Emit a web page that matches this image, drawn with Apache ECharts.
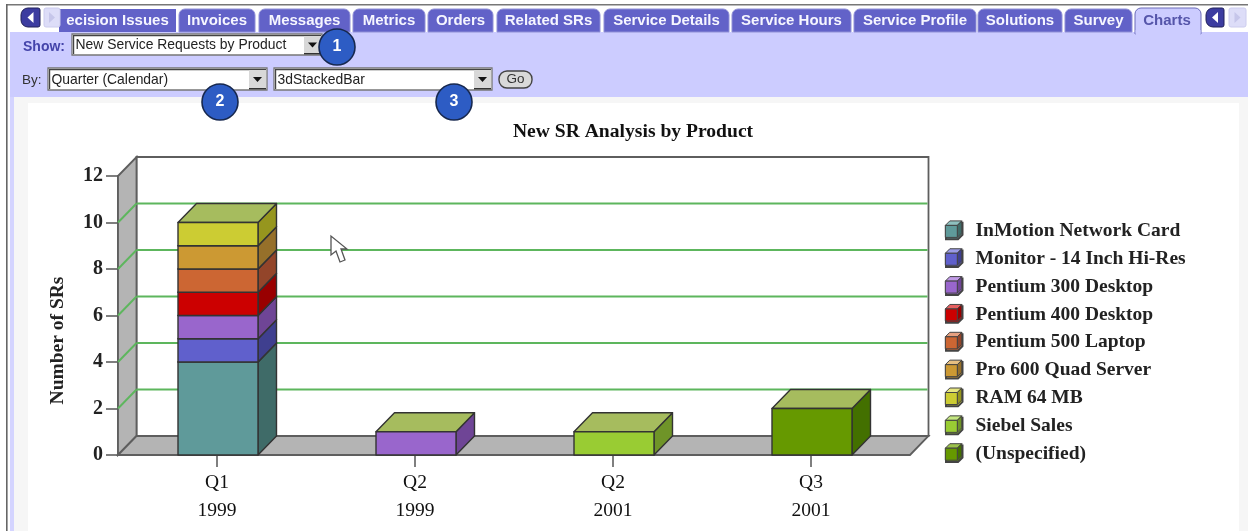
<!DOCTYPE html>
<html><head><meta charset="utf-8">
<style>html,body{margin:0;padding:0;background:#fff}#c{width:1248px;height:531px;filter:blur(0.45px)}</style>
<script src="https://cdn.jsdelivr.net/npm/echarts@6/dist/echarts.min.js"></script>
</head><body><div id="c"></div>
<script>
const categories = ['Q1\n1999','Q2\n1999','Q2\n2001','Q3\n2001'];
const products = ['InMotion Network Card','Monitor - 14 Inch Hi-Res','Pentium 300 Desktop','Pentium 400 Desktop','Pentium 500 Laptop','Pro 600 Quad Server','RAM 64 MB','Siebel Sales','(Unspecified)'];
const inMotion    = [4,0,0,0];
const monitor     = [1,0,0,0];
const pentium300  = [1,1,0,0];
const pentium400  = [1,0,0,0];
const pentium500  = [1,0,0,0];
const pro600      = [1,0,0,0];
const ram64       = [1,0,0,0];
const siebel      = [0,0,1,0];
const unspecified = [0,0,0,2];
const seriesValues = [inMotion,monitor,pentium300,pentium400,pentium500,pro600,ram64,siebel,unspecified];
const frontColors = ['#5f9a9a','#6060cc','#9966cc','#cc0000','#cc6633','#cc9933','#cccc33','#99cc33','#669900'];
const sideColors  = ['#3f6b68','#3f3f8f','#6f4596','#990000','#93452a','#96702a','#96961e','#6f9428','#437000'];
const lidColors   = ['#8fc0bf','#9a9ae6','#c09ae6','#e66060','#e6a080','#e6bf80','#e6e680','#c3e680','#9cc24a'];
const topColor = '#a6bc5e';
const yTicks = [0,2,4,6,8,10,12];
const tabLabels = ['ecision Issues','Invoices','Messages','Metrics','Orders','Related SRs','Service Details','Service Hours','Service Profile','Solutions','Survey'];
const tabEdges = [[59,176],[179,255],[259,350],[353,425],[428,493],[497,600],[604,729],[732,851],[854,976],[978,1062],[1065,1132]];
const DX = 18.5, DY = -19;

function boxItem(params, api) {
  const i = api.value(0), lo = api.value(1), hi = api.value(2);
  if (hi <= lo) return null;
  const c = api.coord([i, lo]), t = api.coord([i, hi]);
  const w = api.size([1, 0])[0] * 0.404;
  const x0 = c[0] - w / 2 + 1, x1 = x0 + w;
  const y0 = c[1], y1 = t[1];
  const s = { stroke: '#333', lineWidth: 1.4, lineJoin: 'round' };
  const idx = params.seriesIndex - 1;
  return { type: 'group', children: [
    { type:'polygon', shape:{points:[[x1,y0],[x1+DX,y0+DY],[x1+DX,y1+DY],[x1,y1]]}, style:Object.assign({fill:sideColors[idx]},s) },
    { type:'polygon', shape:{points:[[x0,y1],[x1,y1],[x1+DX,y1+DY],[x0+DX,y1+DY]]}, style:Object.assign({fill:topColor},s) },
    { type:'rect', shape:{x:x0,y:y1,width:w,height:y0-y1}, style:Object.assign({fill:frontColors[idx]},s) }
  ]};
}
function frameItem(params, api) {
  const v = api.value(0), cs = params.coordSys;
  const p = api.coord([0, v]);
  const xl = cs.x, xr = cs.x + cs.width, y = p[1];
  const kids = [];
  if (v === 0) {
    const top = cs.y, bot = cs.y + cs.height;
    const wall = {stroke:'#5e5e5e',lineWidth:1.8};
    kids.push({type:'rect',shape:{x:xl+DX,y:top+DY,width:cs.width,height:cs.height},style:Object.assign({fill:'#fff'},wall)});
    kids.push({type:'polygon',shape:{points:[[xl,top],[xl+DX,top+DY],[xl+DX,bot+DY],[xl,bot]]},style:Object.assign({fill:'#b4b4b4'},wall)});
    kids.push({type:'polygon',shape:{points:[[xl,bot],[xl+DX,bot+DY],[xr+DX,bot+DY],[xr,bot]]},style:Object.assign({fill:'#b4b4b4'},wall)});
  } else if (v < 12) {
    const g = {stroke:'#5db65d',lineWidth:1.9};
    kids.push({type:'line',shape:{x1:xl,y1:y,x2:xl+DX,y2:y+DY},style:g});
    kids.push({type:'line',shape:{x1:xl+DX,y1:y+DY,x2:xr+DX-1,y2:y+DY},style:g});
  }
  return {type:'group',children:kids};
}
function stacked() {
  const base = categories.map(() => 0);
  return seriesValues.map((vals, k) => {
    const data = vals.map((v, i) => { const lo = base[i]; base[i] += v; return [i, lo, base[i]]; });
    return { name: products[k], type:'custom', renderItem:boxItem, data, z:5,
      encode:{x:0,y:2}, itemStyle:{color:frontColors[k], borderColor:'#444', borderWidth:1}, silent:true };
  });
}

/* ---- page chrome ---- */
const g = [];
const R = (x,y,w,h,fill,extra) => g.push(Object.assign({type:'rect',shape:{x,y,width:w,height:h},style:{fill},silent:true,z:-10},extra||{}));
const T = (text,x,y,font,fill,align,z) => g.push({type:'text',x,y,z:z===undefined?-5:z,silent:true,style:{text,font,fill,align:align||'left',verticalAlign:'middle'}});
R(6,4,1242,1.6,'#777');
R(6,4,1.6,527,'#666');
R(10,97,4,434,'#d4d4ff');
R(14,97,14,434,'#f6f6f6');
R(1239,97,9,434,'#f6f6f6');
R(14,97,1234,6,'#f6f6f6');
R(10,32,1238,65,'#ccccff');
// tabs
const tabFont = 'bold 15px "Liberation Sans"';
tabLabels.forEach((label,i) => {
  const a=tabEdges[i][0], b=tabEdges[i][1];
  g.push({type:'rect',shape:{x:a,y:9,width:b-a,height:23,r:i?[6,6,0,0]:0},style:{fill:'#6262c8',stroke:i?'#8f8fd6':null,lineWidth:1},silent:true,z:-8});
  T(label,(a+b)/2,20.5,tabFont,'#f6f6ff','center');
});
g.push({type:'rect',shape:{x:1135,y:8,width:66,height:26,r:[6,6,0,0]},style:{fill:'#ccccff',stroke:'#6a6ab8',lineWidth:1},silent:true,z:-8});
R(1135.6,30,65,5,'#ccccff',{z:-7});
T('Charts',1167,20.5,tabFont,'#5555aa','center');
// scroll arrows
const arrow=(x,w,on,flip)=>{
  g.push({type:'rect',shape:{x,y:8,width:w,height:19,r:flip?[2,2,2,2]:[7,2,2,7]},style:{fill:on?'#3c3ca0':'#ddddf8',stroke:on?'#20205a':'#ccccee',lineWidth:1},silent:true,z:-6});
  const m=x+w/2;
  const pts=flip?[[m-3,12],[m+3,17.5],[m-3,23]]:[[m+3,12],[m-3,17.5],[m+3,23]];
  g.push({type:'polygon',shape:{points:pts},style:{fill:on?'#fff':'#c6c6ea'},silent:true,z:-5});
};
arrow(21,19,true,false); arrow(44,16,false,true);
arrow(1206,18,true,false); arrow(1229,17,false,true);
// form controls
const sel=(x,y,w,h,label,btn)=>{
  R(x,y,w,h,'#fff',{style:{fill:'#fff',stroke:'#777',lineWidth:1.3}});
  R(x+1,y+1,w-2,1.2,'#444',{z:-9});
  R(x+1,y+1,1.2,h-2,'#444',{z:-9});
  R(x+w-btn-1,y+2,btn,h-3,'#d8d8d8',{z:-9});
  R(x+w-btn-1,y+h-2,btn,1.4,'#333',{z:-8});
  g.push({type:'polygon',shape:{points:[[x+w-btn+3,y+h/2-2],[x+w-5,y+h/2-2],[x+w-btn/2-1,y+h/2+3]]},style:{fill:'#111'},silent:true,z:-8});
  T(label,x+3.5,y+h/2+0.7,'13.9px "Liberation Sans"','#222');
};
T('Show:',23,47,'bold 14px "Liberation Sans"','#4444aa');
sel(72,34,250,21,'New Service Requests by Product',17);
T('By:',22,80,'13.5px "Liberation Sans"','#333');
sel(48,68,219,22,'Quarter (Calendar)',17);
sel(274,68,218,22,'3dStackedBar',17);
g.push({type:'rect',shape:{x:499,y:71,width:33,height:17,r:8},style:{fill:'#d9d9d9',stroke:'#444',lineWidth:1.4},silent:true,z:-8});
T('Go',515.5,79.5,'13.5px "Liberation Sans"','#333','center');
// numbered callouts
[['1',337,47],['2',220,102],['3',454,102]].forEach(c=>{
  g.push({type:'circle',shape:{cx:c[1],cy:c[2],r:18},style:{fill:'#2d5cc4',stroke:'#17284f',lineWidth:1.6},silent:true,z:30});
  T(c[0],c[1],c[2],'bold 16px "Liberation Sans"','#fff','center',31);
});
// mouse cursor
g.push({type:'polygon',shape:{points:[[331,236],[331,255],[336,251],[340,262],[345,260],[341,249],[347,249]]},style:{fill:'#fff',stroke:'#555',lineWidth:1.3},silent:true,z:30});
// legend cube shading
const LY=229.2, LS=27.85;
products.forEach((p,k)=>{
  const y=LY+k*LS, x0=945.3,s=12,d=4.5;
  const top=y-3.8;
  const st={stroke:'#444',lineWidth:1};
  g.push({type:'polygon',shape:{points:[[x0,top],[x0+d,top-d],[x0+d+s,top-d],[x0+s,top]]},style:Object.assign({fill:lidColors[k]},st),silent:true,z:30});
  g.push({type:'polygon',shape:{points:[[x0+s,top],[x0+s+d,top-d],[x0+s+d,top+s-d],[x0+s,top+s]]},style:Object.assign({fill:sideColors[k]},st),silent:true,z:30});
  g.push({type:'rect',shape:{x:x0,y:top,width:s,height:s},style:Object.assign({fill:frontColors[k]},st),silent:true,z:30});
});

const serif='"Liberation Serif"';
const chart=echarts.init(document.getElementById('c'),null,{renderer:'canvas'});
chart.setOption({
  animation:false,
  backgroundColor:'#fff',
  title:{text:'New SR Analysis by Product',left:628,top:117,textAlign:'center',
    textStyle:{fontFamily:serif,fontWeight:'bold',fontSize:19.6,color:'#111'}},
  grid:{left:118,top:176,width:792,height:279,containLabel:false},
  legend:{orient:'vertical',left:945,top:221,padding:0,data:products,itemWidth:16.5,itemHeight:16.5,itemGap:7.85,
    icon:'path://M0 4.5L4.5 0L16.5 0L16.5 12L12 16.5L0 16.5Z',selectedMode:false,
    textStyle:{fontFamily:serif,fontWeight:'bold',fontSize:19.5,lineHeight:16,color:'#222',padding:[0,0,0,8]}},
  xAxis:{type:'category',data:categories,
    axisLine:{show:false},
    axisTick:{show:true,length:12,alignWithLabel:true,lineStyle:{color:'#555',width:1.5}},
    axisLabel:{fontFamily:serif,fontSize:19.5,lineHeight:28,color:'#111',margin:14,fontWeight:'normal',interval:0}},
  yAxis:{type:'value',min:0,max:12,interval:2,
    name:'Number of SRs',nameLocation:'middle',nameGap:50,nameRotate:90,
    nameTextStyle:{fontFamily:serif,fontWeight:'bold',fontSize:19.5,color:'#222',padding:[0,50,0,0]},
    axisLine:{show:true,lineStyle:{color:'#5e5e5e',width:1.8}},
    axisTick:{show:true,length:12,lineStyle:{color:'#555',width:1.5}},
    splitLine:{show:false},
    axisLabel:{fontFamily:serif,fontWeight:'bold',fontSize:20,color:'#222',margin:15,padding:[3,0,0,0]}},
  graphic:g,
  series:[{type:'custom',name:'frame',renderItem:frameItem,data:yTicks.map(v=>[v]),encode:{y:0},z:1,silent:true,clip:false}].concat(stacked())
});
</script></body></html>
